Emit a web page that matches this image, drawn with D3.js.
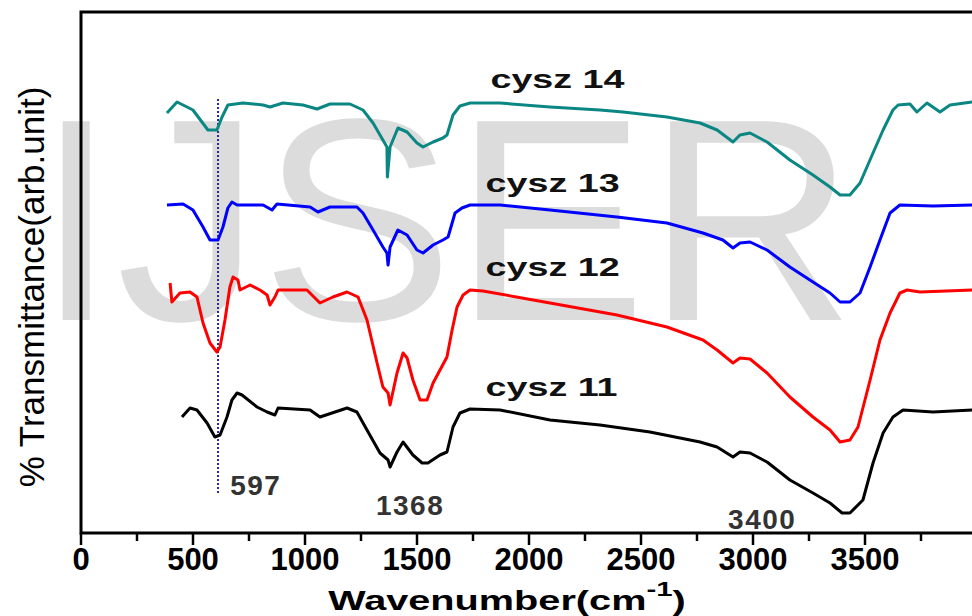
<!DOCTYPE html>
<html>
<head>
<meta charset="utf-8">
<script src="https://cdn.jsdelivr.net/npm/d3@7/dist/d3.min.js"></script>
<style>
  body { margin: 0; background: #fff; }
  svg { display: block; font-family: "Liberation Sans", Arial, sans-serif; }
</style>
</head>
<body>
<svg id="main-svg" width="972" height="616"></svg>
<script>
// ----- //
// data (wavenumber in cm-1, transmittance in arb. units)
// ----- //
const seriesNames = ["cysz 11", "cysz 12", "cysz 13", "cysz 14"];
const seriesColors = ["#000000", "#ff0000", "#0000ff", "#0a8783"];

const cysz11 = [[453,116],[489,125],[520,123],[565,110],[600,96],[623,98],[654,116],[676,133],[699,140],[721,138],
  [788,126],[833,121],[868,118],[882,125],[1025,123],[1069,116],[1190,125],[1234,121],[1279,103],[1337,80],
  [1373,73],[1382,66],[1413,81],[1440,91],[1484,78],[1525,70],[1551,70],[1605,78],[1636,81],[1663,106],
  [1694,120],[1739,124],[1873,123],[2096,113],[2319,108],[2542,101],[2766,91],[2842,86],[2913,76],[2944,81],
  [2989,80],[3065,71],[3167,53],[3270,40],[3346,30],[3400,20],[3435,20],[3493,33],[3538,70],[3583,100],
  [3627,116],[3672,123],[3806,121],[3980,123],[4000,123]];

const cysz12 = [[400,250],[408,231],[444,240],[489,241],[520,236],[547,210],[578,190],[609,181],[623,186],[645,213],
  [667,246],[681,256],[703,253],[712,243],[757,248],[801,243],[833,238],[846,228],[868,236],[882,243],
  [1011,243],[1069,230],[1127,236],[1190,241],[1239,236],[1279,213],[1324,170],[1350,146],[1373,140],[1382,128],
  [1413,160],[1440,180],[1458,175],[1484,153],[1516,133],[1547,133],[1574,150],[1605,163],[1636,176],[1659,203],
  [1681,226],[1708,238],[1739,243],[1797,242],[2096,230],[2395,218],[2618,206],[2779,193],[2842,183],[2913,170],
  [2944,175],[2989,174],[3065,160],[3167,136],[3270,116],[3346,103],[3391,91],[3435,93],[3471,106],[3525,153],
  [3569,193],[3614,220],[3658,240],[3690,243],[3748,241],[3980,243],[4000,243]];

const cysz13 = [[386,328],[458,329],[502,323],[547,306],[578,293],[614,293],[636,306],[658,325],[676,331],[699,328],
  [815,328],[855,323],[877,329],[1025,326],[1060,321],[1114,326],[1234,326],[1261,320],[1306,303],[1350,286],
  [1368,280],[1373,268],[1382,286],[1417,303],[1458,298],[1502,283],[1529,280],[1574,288],[1618,293],[1641,296],
  [1672,320],[1703,325],[1739,328],[1873,328],[2096,323],[2395,316],[2618,310],[2779,300],[2868,293],[2913,285],
  [2944,290],[2989,291],[3065,283],[3167,266],[3270,251],[3346,240],[3391,231],[3435,231],[3480,240],[3525,266],
  [3569,293],[3614,320],[3658,328],[3806,327],[3980,328],[4000,328]];

const cysz14 = [[386,420],[431,431],[502,423],[569,403],[609,403],[632,416],[658,428],[725,430],[815,428],[846,426],
  [904,430],[993,428],[1056,424],[1114,429],[1203,429],[1261,423],[1306,410],[1350,393],[1368,386],[1370,356],
  [1382,386],[1417,405],[1458,401],[1502,390],[1529,386],[1574,391],[1618,395],[1636,398],[1663,418],[1694,427],
  [1739,430],[1873,430],[2096,426],[2319,423],[2422,421],[2618,416],[2766,410],[2842,403],[2913,391],[2944,398],
  [2989,400],[3065,391],[3167,373],[3270,358],[3346,346],[3391,338],[3435,338],[3480,350],[3538,380],[3583,403],
  [3627,423],[3650,428],[3703,429],[3734,421],[3779,430],[3837,421],[3882,428],[3980,431],[4000,431]];

const seriesData = [cysz11, cysz12, cysz13, cysz14];

const majorTicks = [0, 500, 1000, 1500, 2000, 2500, 3000, 3500];
const minorTicks = [250, 750, 1250, 1750, 2250, 2750, 3250, 3750];

const peakLabels = ["597", "1368", "3400"];
const peakLabelAt = [[668, 38], [1319, 18], [2891, 4]];
const markerWavenumber = 614;
const markerRange = [40, 436];
const seriesLabelAt = [[1808, 137], [1808, 257], [1808, 341], [1830, 445]];

// ----- //
// scales
// ----- //
const svg = d3.select("#main-svg");
const x = d3.scaleLinear().domain([0, 4000]).range([80.5, 976.5]);
const y = d3.scaleLinear().domain([0, 521]).range([533, 12]);

// watermark
svg.append("text")
    .attr("x", 36).attr("y", 320)
    .attr("font-size", 289)
    .attr("fill", "#dcdcdc")
    .text("IJSER");

// ----- //
// axes
// ----- //
const xAxis = svg.append("g")
    .attr("transform", `translate(0,${y(0)})`)
    .call(d3.axisBottom(x).tickValues(majorTicks).tickSize(12).tickPadding(3).tickFormat(d3.format("d")));
xAxis.select(".domain").remove();
xAxis.selectAll("line").attr("stroke", "#000").attr("stroke-width", 2.5);
xAxis.selectAll("text")
    .attr("font-size", 31)
    .attr("font-weight", "bold")
    .attr("font-family", "Liberation Sans, Arial, sans-serif")
    .attr("fill", "#000");

const xMinor = svg.append("g")
    .attr("transform", `translate(0,${y(0)})`)
    .call(d3.axisBottom(x).tickValues(minorTicks).tickSize(8).tickFormat(""));
xMinor.select(".domain").remove();
xMinor.selectAll("line").attr("stroke", "#000").attr("stroke-width", 2.5);

// frame: left, top, bottom
svg.append("path")
    .attr("d", `M${x(4000)},${y(0)}H${x(0) + 0.5}V${y(521)}H${x(4000)}`)
    .attr("fill", "none")
    .attr("stroke", "#000")
    .attr("stroke-width", 3);

// axis titles
const xt = svg.append("text")
    .attr("x", 507).attr("y", 610)
    .attr("text-anchor", "middle")
    .attr("font-size", 27)
    .attr("font-weight", "bold")
    .attr("transform", "translate(507,0) scale(1.47,1) translate(-507,0)");
xt.append("tspan").text("Wavenumber(cm");
xt.append("tspan").attr("dy", -14).attr("font-size", 20).text("-1");
xt.append("tspan").attr("dy", 14).text(")");

svg.append("text")
    .attr("transform", "translate(44,287) rotate(-90)")
    .attr("text-anchor", "middle")
    .attr("font-size", 35)
    .text("% Transmittance(arb.unit)");

// ----- //
// marker + peak labels
// ----- //
svg.append("line")
    .attr("x1", x(markerWavenumber)).attr("x2", x(markerWavenumber))
    .attr("y1", y(markerRange[0])).attr("y2", y(markerRange[1]))
    .attr("stroke", "#2a2a9a")
    .attr("stroke-width", 2)
    .attr("stroke-dasharray", "2,2");

svg.selectAll(".peak")
    .data(peakLabels)
    .enter()
    .append("text")
    .attr("class", "peak")
    .attr("x", (d, i) => x(peakLabelAt[i][0]))
    .attr("y", (d, i) => y(peakLabelAt[i][1]))
    .attr("font-size", 28)
    .attr("font-weight", "bold")
    .attr("letter-spacing", 1.5)
    .attr("fill", "#333")
    .text(d => d);

// ----- //
// spectra
// ----- //
const line = d3.line().x(d => x(d[0])).y(d => y(d[1]));

svg.selectAll(".spectrum")
    .data(seriesData)
    .enter()
    .append("path")
    .attr("class", "spectrum")
    .attr("d", line)
    .attr("fill", "none")
    .attr("stroke", (d, i) => seriesColors[i])
    .attr("stroke-width", 3)
    .attr("stroke-linejoin", "round");

svg.selectAll(".series-label")
    .data(seriesNames)
    .enter()
    .append("text")
    .attr("class", "series-label")
    .attr("font-size", 26)
    .attr("font-weight", "bold")
    .attr("fill", "#111")
    .attr("transform", (d, i) => `translate(${x(seriesLabelAt[i][0])},${y(seriesLabelAt[i][1])}) scale(1.45,1)`)
    .text(d => d);
</script>
</body>
</html>
